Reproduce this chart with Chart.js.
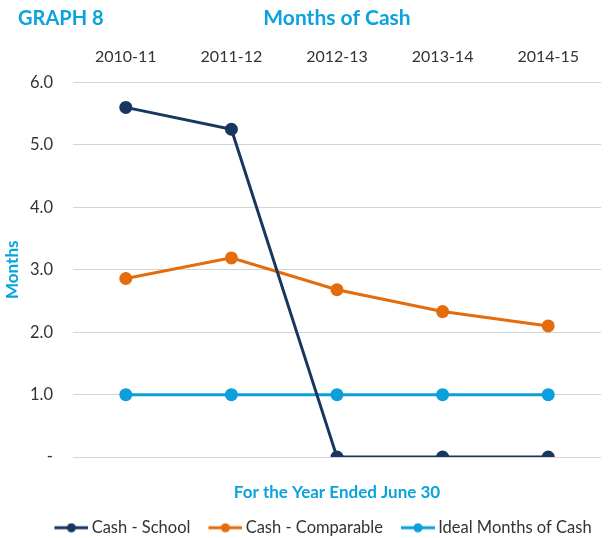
<!DOCTYPE html>
<html>
<head>
<meta charset="utf-8">
<script src="https://cdn.jsdelivr.net/npm/chart.js@4/dist/chart.umd.min.js"></script>
<style>
	body { margin: 0; background: #fff; }
	#wrap { width: 613px; height: 538px; }
</style>
</head>
<body>
<div id="wrap"><canvas id="chart-cash" width="613" height="538"></canvas></div>
<script>
const years = ["2010-11", "2011-12", "2012-13", "2013-14", "2014-15"];
const cashSchool = [5.6, 5.25, 0, 0, 0];
const cashComparable = [2.86, 3.19, 2.68, 2.33, 2.1];
const idealMonths = [1, 1, 1, 1, 1];
const yTicks = [0, 1, 2, 3, 4, 5, 6];

const navyColor = "#17375e";
const orangeColor = "#e46c0a";
const blueColor = "#0b9fdb";
const titleColor = "#0ba3dc";
const textColor = "#333333";

Chart.defaults.font.family = "Lato, 'Open Sans', sans-serif";
Chart.defaults.color = textColor;

// legend marker: short line with a dot, transparent margin on the left for spacing
function legendMarker(color) {
	const c = document.createElement("canvas");
	c.width = 54;
	c.height = 10;
	const g = c.getContext("2d");
	g.strokeStyle = color;
	g.lineWidth = 3;
	g.beginPath();
	g.moveTo(20, 5);
	g.lineTo(54, 5);
	g.stroke();
	g.fillStyle = color;
	g.beginPath();
	g.arc(37, 5, 4.5, 0, Math.PI * 2);
	g.fill();
	return c;
}

function series(label, data, color) {
	return {
		label: label,
		data: data,
		borderColor: color,
		backgroundColor: color,
		borderWidth: 3,
		pointRadius: 6.5,
		pointBorderWidth: 0,
		pointBackgroundColor: color,
		tension: 0,
	};
}

// "GRAPH 8" label top left, legend nudged a bit right
const graphLabel = {
	id: "graphLabel",
	afterLayout(chart) {
		chart.legend.left += 14;
		chart.legend.right += 14;
	},
	afterDraw(chart) {
		const ctx = chart.ctx;
		ctx.save();
		ctx.font = "bold 20px Lato, 'Open Sans', sans-serif";
		ctx.fillStyle = titleColor;
		ctx.textBaseline = "middle";
		ctx.textAlign = "left";
		ctx.fillText("GRAPH 8", 18, 19);
		ctx.restore();
	},
};

const ctx = document.getElementById("chart-cash").getContext("2d");

new Chart(ctx, {
	type: "line",
	data: {
		labels: years,
		datasets: [
			series("Cash - School", cashSchool, navyColor),
			series("Cash - Comparable", cashComparable, orangeColor),
			series("Ideal Months of Cash", idealMonths, blueColor),
		],
	},
	options: {
		responsive: false,
		maintainAspectRatio: false,
		animation: false,
		layout: {
			padding: { left: 2, right: 12, top: 0, bottom: -8 },
		},
		plugins: {
			tooltip: { enabled: false },
			title: {
				display: true,
				text: "Months of Cash",
				color: titleColor,
				fullSize: false,
				font: { size: 21, weight: "bold" },
				padding: { top: 6, bottom: 8 },
			},
			subtitle: {
				display: true,
				position: "bottom",
				text: "For the Year Ended June 30",
				color: titleColor,
				weight: 500,
				fullSize: false,
				font: { size: 17, weight: "bold" },
				padding: { top: 25, bottom: 14 },
			},
			legend: {
				position: "bottom",
				labels: {
					usePointStyle: true,
					pointStyleWidth: 44,
					boxHeight: 10,
					padding: 3,
					color: textColor,
					font: { size: 16.5 },
					generateLabels(chart) {
						return chart.data.datasets.map((ds, i) => ({
							text: ds.label,
							pointStyle: legendMarker(ds.borderColor),
							fillStyle: ds.borderColor,
							strokeStyle: ds.borderColor,
							lineWidth: 0,
							hidden: false,
							datasetIndex: i,
							fontColor: textColor,
						}));
					},
				},
			},
		},
		scales: {
			x: {
				position: "top",
				offset: true,
				grid: { display: false },
				border: { display: false },
				ticks: {
					color: textColor,
					font: { size: 16 },
					padding: 8,
				},
			},
			y: {
				min: 0,
				max: 6,
				afterBuildTicks(axis) {
					axis.ticks = yTicks.map((v) => ({ value: v }));
				},
				afterFit(axis) {
					axis.width = 71;
				},
				grid: {
					color: "#d4d4d4",
					lineWidth: 1,
					drawTicks: false,
				},
				border: { display: false },
				ticks: {
					color: textColor,
					font: { size: 16.5 },
					padding: 20,
					callback: (v) => (v === 0 ? "-" : Number(v).toFixed(1)),
				},
				title: {
					display: true,
					text: "Months",
					color: titleColor,
					font: { size: 17, weight: "bold" },
					padding: 0,
				},
			},
		},
	},
	plugins: [graphLabel],
});
</script>
</body>
</html>
